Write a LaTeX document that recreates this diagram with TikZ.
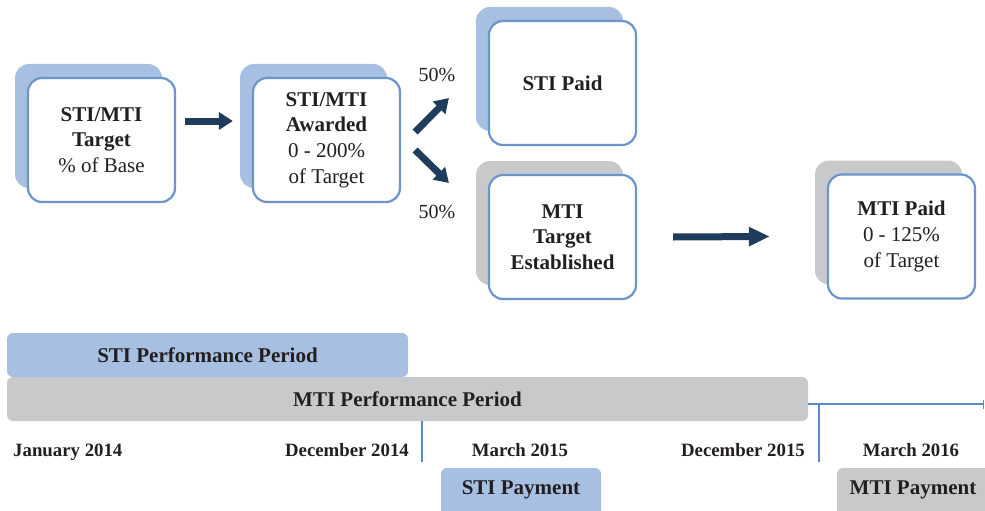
\documentclass[tikz,border=0pt]{standalone}
\usepackage{fontspec}
\setmainfont{Liberation Serif}
\usetikzlibrary{arrows.meta,shadows}

\definecolor{stiblue}{HTML}{A7BFE0}
\definecolor{boxline}{HTML}{6B95CB}
\definecolor{mtigray}{HTML}{C8C9CB}
\definecolor{navy}{HTML}{1E3D5C}
\definecolor{ink}{HTML}{231F20}
\definecolor{tline}{HTML}{5A8BC6}

\begin{document}
\begin{tikzpicture}[x=1pt,y=-1pt,
	every node/.style={text=ink},
	card/.style={draw=boxline, line width=2.2pt, fill=white, rounded corners=14pt,
		minimum width=147pt, minimum height=124pt, align=center,
		font=\fontsize{21}{25.7}\selectfont},
	sticard/.style={card, general shadow={fill=stiblue, shadow xshift=-13pt, shadow yshift=14pt}},
	mticard/.style={card, general shadow={fill=mtigray, shadow xshift=-13pt, shadow yshift=14pt}},
	bar/.style={rounded corners=6pt, minimum height=44pt, inner sep=0pt,
		font=\fontsize{21}{25}\selectfont\bfseries},
	date/.style={font=\fontsize{18.8}{20}\selectfont\bfseries, inner sep=0pt},
	pct/.style={font=\fontsize{20}{22}\selectfont, inner sep=0pt},
	flow/.style={draw=navy, line width=7pt, -{Triangle[length=14pt,width=17pt]}},
	tl/.style={draw=tline, line width=2pt}]
	\useasboundingbox (0,0) rectangle (985,511);
	\clip (0,0) rectangle (985,511);

	% boxes
	\node[sticard] (target) at (101.5,140) {\textbf{STI/MTI}\\\textbf{Target}\\\% of Base};
	\node[sticard] (award) at (326.5,140) {\textbf{STI/MTI}\\\textbf{Awarded}\\0 - 200\%\\of Target};
	\node[sticard] (stipaid) at (562.5,83) {\textbf{STI Paid}};
	\node[mticard] (mtitgt) at (562.5,237) {\textbf{MTI}\\\textbf{Target}\\\textbf{Established}};
	\node[mticard] (mtipaid) at (901.5,236.5) {\textbf{MTI Paid}\\0 - 125\%\\of Target};

	\node[pct] (splitup) at (437,75) {50\%};
	\node[pct] (splitdn) at (437,212) {50\%};

	% arrows
	\draw[flow] ([xshift=9pt,yshift=19pt]target.east) -- ([xshift=-19pt,yshift=19pt]award.west);
	\draw[flow] ([xshift=14pt,yshift=8pt]award.east) -- ([xshift=-39pt,yshift=-15pt]stipaid.west);
	\draw[flow] ([xshift=14pt,yshift=-10pt]award.east) -- ([xshift=-39pt,yshift=54pt]mtitgt.west);
	\draw[flow, -{Triangle[length=21pt,width=18pt]}] ([xshift=36pt]mtitgt.east) -- ([xshift=-57pt]mtipaid.west);

	% periods
	\node[bar, fill=stiblue, minimum width=401pt] (stiper) at (207.5,355) {STI Performance Period};
	\node[bar, fill=mtigray, minimum width=801pt] (mtiper) at (407.5,399) {MTI Performance Period};

	% timeline
	\draw[tl] (422,421) -- (422,462);
	\draw[tl] (819,404) -- (819,462);
	\draw[tl, -{Bar[width=9pt,line width=1.5pt]}] (808,404) -- (984,404);

	\node[date, anchor=base west] (jan14) at (13,456.5) {January 2014};
	\node[date, anchor=base east] (dec14) at (409,456.5) {December 2014};
	\node[date, anchor=base] (mar15) at (520,456.5) {March 2015};
	\node[date, anchor=base east] (dec15) at (805,456.5) {December 2015};
	\node[date, anchor=base] (mar16) at (911,456.5) {March 2016};

	% payments
	\fill[stiblue, rounded corners=6pt] (441,468) rectangle (601,530);
	\fill[mtigray, rounded corners=6pt] (837,468) rectangle (1000,530);
	\node[bar] (stipay) at (521,490) {STI Payment};
	\node[bar] (mtipay) at (913,490) {MTI Payment};
\end{tikzpicture}
\end{document}
